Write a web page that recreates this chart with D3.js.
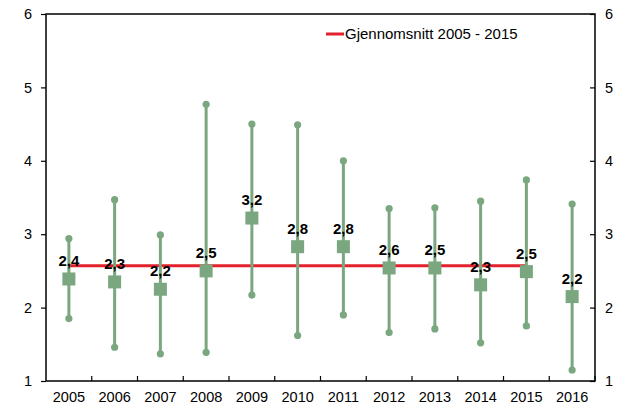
<!DOCTYPE html>
<html>
<head>
<meta charset="utf-8">
<script src="https://cdn.jsdelivr.net/npm/d3@7"></script>
<style>
  body { margin: 0; background: white; }
  text { font-family: Arial, "Liberation Sans", sans-serif; }
</style>
</head>
<body>
<div id="chart"></div>
<script>
// years on the x axis
var years = ["2005", "2006", "2007", "2008", "2009", "2010", "2011", "2012", "2013", "2014", "2015", "2016"];
// middle value (square) for each year
var midValues = [2.39, 2.35, 2.25, 2.50, 3.22, 2.83, 2.83, 2.54, 2.54, 2.31, 2.49, 2.15];
// labels shown over each square
var midLabels = ["2,4", "2,3", "2,2", "2,5", "3,2", "2,8", "2,8", "2,6", "2,5", "2,3", "2,5", "2,2"];
// high and low end of each range
var highValues = [2.94, 3.47, 2.99, 4.77, 4.50, 4.49, 4.00, 3.35, 3.36, 3.45, 3.74, 3.41];
var lowValues = [1.85, 1.46, 1.37, 1.39, 2.17, 1.62, 1.90, 1.66, 1.71, 1.52, 1.75, 1.15];
// average 2005 - 2015
var avgValue = 2.57;
var avgFrom = "2005";
var avgTo = "2015";
var legendText = "Gjennomsnitt 2005 - 2015";
var yTicks = [1, 2, 3, 4, 5, 6];

var width = 631, height = 405;
var plotLeft = 46, plotRight = 595, plotTop = 14, plotBottom = 381;
var green = "#7aa77f";
var red = "#e3202b";

var svg = d3.select("#chart").append("svg")
	.attr("width", width)
	.attr("height", height);

var x = d3.scaleBand().domain(years).range([plotLeft, plotRight]);
var y = d3.scaleLinear().domain([1, 6]).range([plotBottom, plotTop]);

// frame
svg.append("rect")
	.attr("x", plotLeft)
	.attr("y", plotTop)
	.attr("width", plotRight - plotLeft)
	.attr("height", plotBottom - plotTop)
	.attr("fill", "none")
	.attr("stroke", "black")
	.attr("stroke-width", 1.5);

// left axis, ticks outside
var leftAxis = svg.append("g")
	.attr("transform", "translate(" + plotLeft + ",0)")
	.call(d3.axisLeft(y).tickValues(yTicks).tickSize(5).tickPadding(9).tickFormat(d3.format("d")));
// right axis, ticks inside
var rightAxis = svg.append("g")
	.attr("transform", "translate(" + plotRight + ",0)")
	.call(d3.axisRight(y).tickValues(yTicks).tickSize(0).tickPadding(10).tickFormat(d3.format("d")));
rightAxis.selectAll(".tick").append("line")
	.attr("x1", -5).attr("x2", 0)
	.attr("stroke", "black");

// bottom axis, ticks at category borders pointing up
var bottomAxis = svg.append("g")
	.attr("transform", "translate(0," + plotBottom + ")")
	.call(d3.axisBottom(x).tickSize(0).tickPadding(11));
bottomAxis.selectAll(".tick").append("line")
	.attr("x1", x.bandwidth() / 2).attr("x2", x.bandwidth() / 2)
	.attr("y1", 0).attr("y2", -5)
	.attr("stroke", "black");

svg.selectAll(".domain").remove();
svg.selectAll(".tick text")
	.attr("font-size", "14.5px")
	.attr("fill", "black")
	.attr("font-family", "Arial, 'Liberation Sans', sans-serif");
svg.selectAll(".tick line").attr("stroke-width", 1.2);

// average line
svg.append("line")
	.attr("x1", x(avgFrom) + x.bandwidth() / 2)
	.attr("x2", x(avgTo) + x.bandwidth() / 2)
	.attr("y1", y(avgValue))
	.attr("y2", y(avgValue))
	.attr("stroke", red)
	.attr("stroke-width", 3);

// ranges
for (var i = 0; i < years.length; i++) {
	var cx = x(years[i]) + x.bandwidth() / 2;
	svg.append("line")
		.attr("x1", cx).attr("x2", cx)
		.attr("y1", y(highValues[i]))
		.attr("y2", y(lowValues[i]))
		.attr("stroke", green)
		.attr("stroke-width", 3);
	svg.append("circle")
		.attr("cx", cx).attr("cy", y(highValues[i]))
		.attr("r", 3.6).attr("fill", green);
	svg.append("circle")
		.attr("cx", cx).attr("cy", y(lowValues[i]))
		.attr("r", 3.6).attr("fill", green);
	svg.append("rect")
		.attr("x", cx - 6.5)
		.attr("y", y(midValues[i]) - 6.5)
		.attr("width", 13)
		.attr("height", 13)
		.attr("fill", green);
	svg.append("text")
		.attr("x", cx)
		.attr("y", y(midValues[i]) - 13)
		.attr("text-anchor", "middle")
		.attr("font-size", "15px")
		.attr("font-weight", "bold")
		.attr("fill", "black")
		.text(midLabels[i]);
}

// legend
svg.append("line")
	.attr("x1", 326).attr("x2", 344)
	.attr("y1", 34).attr("y2", 34)
	.attr("stroke", red)
	.attr("stroke-width", 3);
svg.append("text")
	.attr("x", 345)
	.attr("y", 39)
	.attr("font-size", "15px")
	.attr("fill", "black")
	.text(legendText);
</script>
</body>
</html>
